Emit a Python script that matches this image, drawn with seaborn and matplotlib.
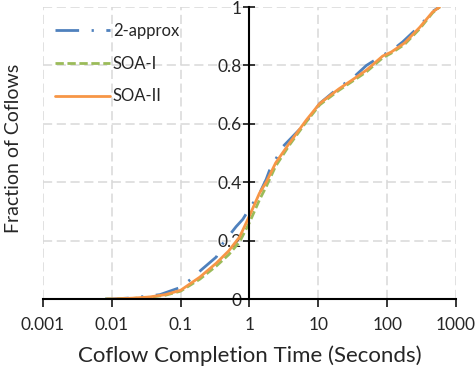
import seaborn as sns
import matplotlib.pyplot as plt
import pandas as pd

# valores (CDF de tiempos de coflow)
x_approx = [0.008, 0.01, 0.02, 0.05, 0.1, 0.148, 0.2, 0.33, 0.41, 0.64, 0.8, 1.0, 1.4, 1.75,
            1.95, 2.7, 3.0, 5.3, 8, 10.5, 20, 31, 50, 86, 115, 167, 296, 457, 577]
y_approx = [0.0, 0.0, 0.004, 0.015, 0.04, 0.072, 0.10, 0.144, 0.19, 0.248, 0.273, 0.31, 0.362, 0.41,
            0.44, 0.50, 0.52, 0.58, 0.63, 0.67, 0.725, 0.755, 0.80, 0.835, 0.85, 0.88, 0.935, 0.985, 1.0]

x_soa1 = [0.008, 0.01, 0.02, 0.035, 0.06, 0.1, 0.19, 0.33, 0.5, 0.72, 1.0, 1.4, 1.75, 2.4, 3.8,
          6.7, 10.5, 20, 31, 50, 86, 115, 179, 296, 457, 577]
y_soa1 = [0.0, 0.0, 0.002, 0.006, 0.013, 0.027, 0.068, 0.113, 0.152, 0.196, 0.262, 0.34, 0.385, 0.455, 0.527,
          0.607, 0.665, 0.715, 0.745, 0.778, 0.826, 0.842, 0.872, 0.925, 0.98, 1.0]

x_soa2 = [0.0085, 0.01, 0.02, 0.035, 0.06, 0.1, 0.19, 0.33, 0.5, 0.72, 1.0, 1.4, 1.75, 2.4, 3.8,
          6.7, 10.5, 20, 31, 50, 86, 115, 179, 296, 457, 577]
y_soa2 = [0.0, 0.0, 0.003, 0.007, 0.015, 0.03, 0.075, 0.123, 0.165, 0.213, 0.285, 0.363, 0.40, 0.466, 0.534,
          0.613, 0.67, 0.72, 0.75, 0.784, 0.832, 0.846, 0.877, 0.93, 0.983, 1.0]

x_ticks = [0.001, 0.01, 0.1, 1, 10, 100, 1000]
x_ticklabels = ['0.001', '0.01', '0.1', '1', '10', '100', '1000']
y_ticks = [0, 0.2, 0.4, 0.6, 0.8, 1]
y_ticklabels = ['0', '0.2', '0.4', '0.6', '0.8', '1']

sns.set_style('white')
plt.rcParams['font.family'] = ['Lato', 'DejaVu Sans']

fig = plt.figure(figsize=(4.77, 3.79), dpi=100)
ax = fig.add_axes([0.090, 0.211, 0.866, 0.7705])

df1 = pd.DataFrame({'x': x_approx, 'y': y_approx})
df2 = pd.DataFrame({'x': x_soa1, 'y': y_soa1})
df3 = pd.DataFrame({'x': x_soa2, 'y': y_soa2})

sns.lineplot(data=df1, x='x', y='y', ax=ax, color='#4F81BD', lw=2.0, label='2-approx',
             estimator=None, sort=False, linestyle=(0, (8.5, 4.5, 0.8, 4.5)))
sns.lineplot(data=df2, x='x', y='y', ax=ax, color='#9BBB59', lw=2.0, label='SOA-I',
             estimator=None, sort=False, linestyle=(0, (3.0, 1.3)))
sns.lineplot(data=df3, x='x', y='y', ax=ax, color='#F79646', lw=2.0, label='SOA-II',
             estimator=None, sort=False)

ax.set_xscale('log')
ax.set_xlim(0.001, 1000)
ax.set_ylim(0, 1)
ax.set_xticks(x_ticks)
ax.set_xticklabels(x_ticklabels)
ax.minorticks_off()
ax.set_yticks(y_ticks)
ax.set_yticklabels(y_ticklabels)

ax.grid(True, color='#d9d9d9', linestyle=(0, (6, 3)), lw=1.1)
ax.set_axisbelow(True)

ax.spines['top'].set_visible(False)
ax.spines['right'].set_visible(False)
ax.spines['left'].set_position(('data', 1))
ax.spines['left'].set_linewidth(1.5)
ax.spines['bottom'].set_linewidth(1.5)
ax.spines['left'].set_color('black')
ax.spines['bottom'].set_color('black')
ax.spines['left'].set_zorder(3)

ax.tick_params(axis='y', direction='inout', length=9, width=1.3, labelsize=12.5, pad=1, left=True)
ax.tick_params(axis='x', direction='out', length=6, width=1.3, labelsize=12.5, pad=7, bottom=True)

ax.set_xlabel('Coflow Completion Time (Seconds)', fontsize=16, labelpad=9)
ax.set_ylabel('Fraction of Coflows', fontsize=14)
ax.yaxis.set_label_coords(-0.05, 0.517)

ax.legend(loc='upper left', frameon=False, fontsize=12, handlelength=3.3,
          labelspacing=1.0, handletextpad=0.2, borderaxespad=0.3, bbox_to_anchor=(0.0, 0.985))

fig.savefig('out.png', dpi=100)
